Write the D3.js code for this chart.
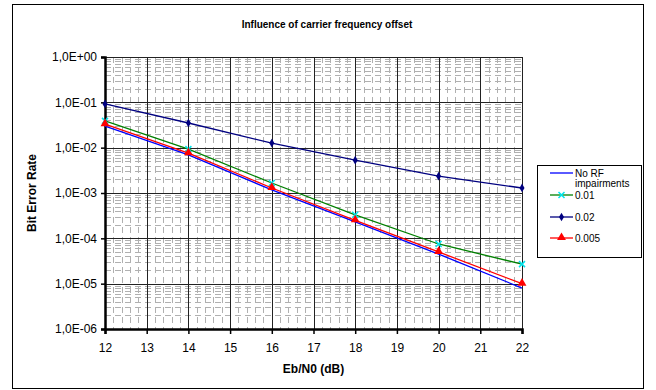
<!DOCTYPE html>
<html>
<head>
<meta charset="utf-8">
<script src="https://cdn.jsdelivr.net/npm/d3@7"></script>
<style>
  body { margin: 0; background: #fff; }
  text { font-family: Arial, "Liberation Sans", sans-serif; }
</style>
</head>
<body>
<div id="chart"></div>
<script>
// Eb/N0 values (dB)
let ebn0 = [12, 14, 16, 18, 20, 22]
// bit error rates
let noRF = [3.0e-2, 6.9e-3, 1.17e-3, 2.3e-4, 4.5e-5, 8.0e-6]
let cfo001 = [3.9e-2, 9.3e-3, 1.66e-3, 3.3e-4, 7.5e-5, 2.7e-5]
let cfo002 = [9.2e-2, 3.5e-2, 1.26e-2, 5.3e-3, 2.35e-3, 1.29e-3]
let cfo0005 = [3.3e-2, 7.6e-3, 1.29e-3, 2.5e-4, 5.0e-5, 1.0e-5]
let xTicks = [12, 13, 14, 15, 16, 17, 18, 19, 20, 21, 22]
let yTicks = [1, 1e-1, 1e-2, 1e-3, 1e-4, 1e-5, 1e-6]

let series = [
    { name: "No RF impairments", values: noRF, color: "#0000ff", marker: "none" },
    { name: "0.01", values: cfo001, color: "#008000", marker: "x", markerColor: "#00e5ee" },
    { name: "0.02", values: cfo002, color: "#000080", marker: "diamond", markerColor: "#000080" },
    { name: "0.005", values: cfo0005, color: "#ff0000", marker: "triangle", markerColor: "#ff0000" }
]

let width = 656,
    height = 390
let pLeft = 105, pRight = 522, pTop = 57, pBottom = 329

let svg = d3.select("#chart").append("svg")
    .attr("width", width)
    .attr("height", height)

// outer chart frame
svg.append("rect")
    .attr("x", 12.5).attr("y", 4.5)
    .attr("width", 631).attr("height", 384)
    .attr("fill", "#fff").attr("stroke", "#000").attr("stroke-width", 1)

let xScale = d3.scaleLinear().domain([12, 22]).range([pLeft, pRight])
let yScale = d3.scaleLog().domain([1e-6, 1]).range([pBottom, pTop])

// minor grid
let minorY = []
for (let e = -6; e < 0; e++) {
    for (let m = 2; m <= 9; m++) minorY.push(m * Math.pow(10, e))
}
let minorX = []
for (let v = 12; v < 22; v += 0.2) {
    if (Math.abs(v - Math.round(v)) > 0.01) minorX.push(v)
}
svg.append("g").selectAll("line")
    .data(minorY)
    .enter().append("line")
    .attr("x1", pLeft).attr("x2", pRight)
    .attr("y1", function(d) { return Math.round(yScale(d)) + 0.5 })
    .attr("y2", function(d) { return Math.round(yScale(d)) + 0.5 })
    .attr("stroke", "#b0b0b0").attr("stroke-dasharray", "6,4")
svg.append("g").selectAll("line")
    .data(minorX)
    .enter().append("line")
    .attr("y1", pTop).attr("y2", pBottom)
    .attr("x1", function(d) { return Math.round(xScale(d)) + 0.5 })
    .attr("x2", function(d) { return Math.round(xScale(d)) + 0.5 })
    .attr("stroke", "#b0b0b0").attr("stroke-dasharray", "6,4")

// major grid
svg.append("g").selectAll("line")
    .data(yTicks)
    .enter().append("line")
    .attr("x1", pLeft).attr("x2", pRight)
    .attr("y1", function(d) { return Math.round(yScale(d)) + 0.5 })
    .attr("y2", function(d) { return Math.round(yScale(d)) + 0.5 })
    .attr("stroke", "#222")
svg.append("g").selectAll("line")
    .data(xTicks)
    .enter().append("line")
    .attr("y1", pTop).attr("y2", pBottom)
    .attr("x1", function(d) { return Math.round(xScale(d)) + 0.5 })
    .attr("x2", function(d) { return Math.round(xScale(d)) + 0.5 })
    .attr("stroke", "#222")

// axes
let fmt = function(d) {
    let e = Math.round(Math.log10(d))
    return "1,0E" + (e >= 0 ? "+" : "-") + String(Math.abs(e)).padStart(2, "0")
}
let yAxis = svg.append("g")
    .attr("transform", "translate(" + pLeft + ",0)")
    .call(d3.axisLeft(yScale).tickValues(yTicks).tickFormat(fmt).tickSize(4).tickPadding(4))
let xAxis = svg.append("g")
    .attr("transform", "translate(0," + pBottom + ")")
    .call(d3.axisBottom(xScale).tickValues(xTicks).tickFormat(d3.format("d")).tickSize(5).tickPadding(9))
;[yAxis, xAxis].forEach(function(a) {
    a.select(".domain").attr("stroke", "#000").attr("stroke-width", 2.5)
    a.selectAll(".tick line").attr("stroke", "#000").attr("stroke-width", 1.5)
    a.selectAll("text").attr("fill", "#000").style("font-size", "12px")
})

// lines
let line = d3.line()
    .x(function(d) { return xScale(d[0]) })
    .y(function(d) { return yScale(d[1]) })

function drawMarker(g, type, x, y, color) {
    if (type == "diamond") {
        g.append("path")
            .attr("d", d3.symbol().type(d3.symbolDiamond).size(22)())
            .attr("transform", "translate(" + x + "," + y + ")")
            .attr("fill", color)
    } else if (type == "triangle") {
        g.append("path")
            .attr("d", d3.symbol().type(d3.symbolTriangle).size(34)())
            .attr("transform", "translate(" + x + "," + (y - 0.5) + ")")
            .attr("fill", color)
    } else if (type == "x") {
        g.append("path")
            .attr("d", "M-3,-3L3,3M-3,3L3,-3")
            .attr("transform", "translate(" + x + "," + y + ")")
            .attr("stroke", color).attr("stroke-width", 1.5)
    }
}

series.forEach(function(s) {
    let pts = ebn0.map(function(x, i) { return [x, s.values[i]] })
    let g = svg.append("g")
    g.append("path")
        .attr("d", line(pts))
        .attr("fill", "none")
        .attr("stroke", s.color)
        .attr("stroke-width", 1.3)
    pts.forEach(function(p) {
        drawMarker(g, s.marker, xScale(p[0]), yScale(p[1]), s.markerColor)
    })
})

// titles
svg.append("text")
    .attr("x", 327).attr("y", 28)
    .attr("text-anchor", "middle")
    .style("font-size", "10px").style("font-weight", "bold")
    .text("Influence of carrier frequency offset")
svg.append("text")
    .attr("x", (pLeft + pRight) / 2).attr("y", 373)
    .attr("text-anchor", "middle")
    .style("font-size", "12px").style("font-weight", "bold")
    .text("Eb/N0 (dB)")
svg.append("text")
    .attr("transform", "translate(36," + ((pTop + pBottom) / 2) + ") rotate(-90)")
    .attr("text-anchor", "middle")
    .style("font-size", "12px").style("font-weight", "bold")
    .text("Bit Error Rate")

// legend
let legend = svg.append("g")
legend.append("rect")
    .attr("x", 537.5).attr("y", 165.5)
    .attr("width", 104).attr("height", 92)
    .attr("fill", "#fff").attr("stroke", "#000")
let legendY = [173, 195, 217, 238]
series.forEach(function(s, i) {
    let y = legendY[i]
    legend.append("line")
        .attr("x1", 550).attr("x2", 573)
        .attr("y1", y).attr("y2", y)
        .attr("stroke", s.color).attr("stroke-width", 1.3)
    drawMarker(legend, s.marker, 561.5, y, s.markerColor)
    let words = s.name == "No RF impairments" ? ["No RF", "impairments"] : [s.name]
    words.forEach(function(w, j) {
        legend.append("text")
            .attr("x", 575).attr("y", y + 3.5 + j * 10.5)
            .style("font-size", "10px")
            .text(w)
    })
})
</script>
</body>
</html>
